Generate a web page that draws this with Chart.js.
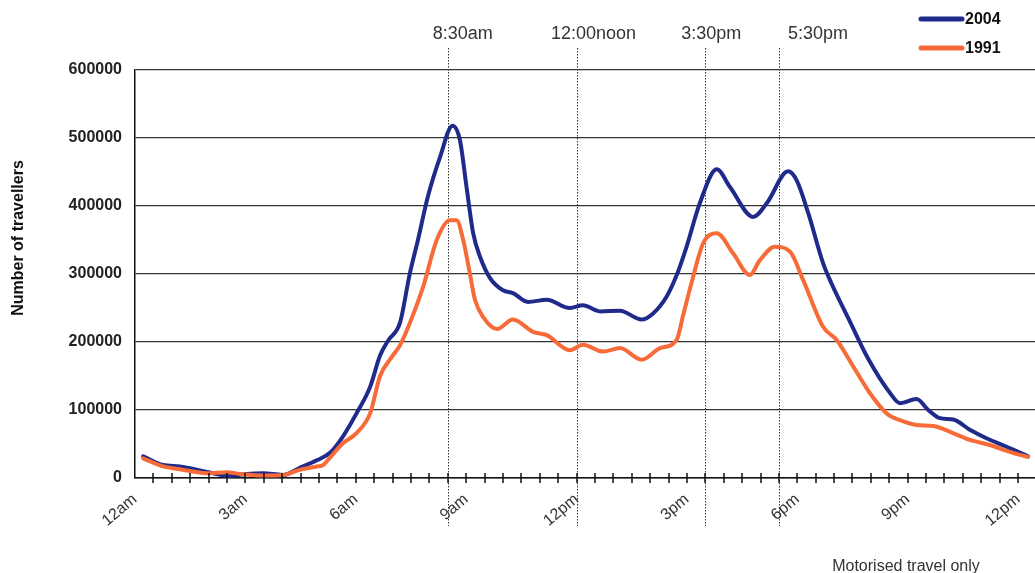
<!DOCTYPE html>
<html>
<head>
<meta charset="utf-8">
<script src="https://cdn.jsdelivr.net/npm/chart.js@4.4.1/dist/chart.umd.min.js"></script>
<style>
  body { margin: 0; background: #fff; }
  #wrap { width: 1035px; height: 573px; }
</style>
</head>
<body>
<div id="wrap"><canvas id="travelChart" width="1035" height="573"></canvas></div>
<script>
// hour of day (0 = midnight) and number of travellers
const hours2004 = [0.22, 0.76, 1.22, 1.95, 2.58, 3.04, 3.48, 4.02, 4.48, 4.94, 5.30, 5.65, 6.02, 6.39, 6.66, 6.89,
  7.20, 7.47, 7.69, 7.96, 8.29, 8.63, 8.83, 9.01, 9.19, 9.38, 9.65, 10.0, 10.27, 10.68, 11.19, 11.82,
  12.17, 12.64, 13.18, 13.77, 14.08, 14.45, 14.72, 14.99, 15.35, 15.81, 16.17, 16.80, 17.17, 17.75,
  17.98, 18.30, 18.70, 18.93, 19.43, 19.93, 20.52, 20.79, 21.24, 21.56, 21.88, 22.24, 22.69, 23.14,
  23.69, 24.27];
const travellers2004 = [32000, 19000, 17000, 9000, 3000, 6000, 7000, 4500, 15000, 26000, 37000, 61000, 95000, 134000, 180000, 203000,
  228000, 301000, 350000, 414000, 472000, 518000, 497000, 428000, 360000, 325000, 294000, 276000, 272000, 259000, 262000, 250000,
  254000, 245000, 246000, 233000, 242000, 267000, 298000, 340000, 404000, 454000, 428000, 384000, 404000, 451000,
  438000, 389000, 316000, 286000, 230000, 175000, 125000, 110000, 116000, 100000, 88000, 86000, 71000, 58500,
  46000, 32000];

const hours1991 = [0.22, 0.76, 1.22, 1.95, 2.49, 2.85, 3.48, 4.02, 4.48, 4.94, 5.11, 5.30, 5.65, 6.02, 6.39, 6.66,
  6.98, 7.20, 7.47, 7.83, 8.20, 8.56, 8.74, 8.92, 9.10, 9.24, 9.46, 9.84, 10.27, 10.82, 11.19, 11.82,
  12.17, 12.72, 13.18, 13.77, 14.27, 14.72, 14.90, 15.14, 15.44, 15.81, 16.26, 16.71, 16.98, 17.39,
  17.80, 18.16, 18.70, 19.07, 19.52, 19.97, 20.43, 20.79, 21.24, 21.70, 22.15, 22.69, 23.23, 23.69,
  24.05, 24.27];
const travellers1991 = [29000, 17000, 13000, 7000, 8500, 6000, 3500, 4500, 12000, 17000, 19000, 30000, 51000, 66000, 95000, 150000,
  178000, 195000, 228000, 281000, 350000, 379000, 379000, 350000, 301000, 262000, 237000, 219000, 233000, 215000, 210000, 188000,
  196000, 186000, 191000, 174000, 191000, 203000, 240000, 290000, 345000, 360000, 330000, 298500, 320000, 340000,
  333000, 291000, 222500, 203000, 164000, 125000, 95000, 85000, 78000, 76500, 68000, 56000, 48500, 40000,
  34000, 31000];

const tickLabels = ['12am', '3am', '6am', '9am', '12pm', '3pm', '6pm', '9pm', '12pm'];
const markerHours = [8.5, 12, 15.5, 17.5];
const markerLabels = ['8:30am', '12:00noon', '3:30pm', '5:30pm'];
const seriesNames = ['2004', '1991'];

const colors = ['#1f2a8a', '#f76b38'];
const FONT = 'Arial, "Liberation Sans", sans-serif';
const markerLabelShift = [15, 17, 6, 39];

function toPoints(xs, ys) {
    return xs.map((h, i) => ({ x: h, y: ys[i] }));
}

// dotted time markers, half-hour ticks across the axis, legend and notes
const extrasPlugin = {
    id: 'extras',
    beforeDatasetsDraw(chart) {
        const ctx = chart.ctx;
        const xs = chart.scales.x;
        ctx.save();
        ctx.strokeStyle = '#333';
        ctx.lineWidth = 1;
        ctx.setLineDash([1.5, 1.5]);
        markerHours.forEach(h => {
            const px = Math.round(xs.getPixelForValue(h)) + 0.5;
            ctx.beginPath();
            ctx.moveTo(px, 48);
            ctx.lineTo(px, 526);
            ctx.stroke();
        });
        ctx.restore();
    },
    afterDraw(chart) {
        const ctx = chart.ctx;
        const xs = chart.scales.x;
        const area = chart.chartArea;
        ctx.save();

        // half hour tick marks
        ctx.strokeStyle = '#111';
        ctx.lineWidth = 1.5;
        for (let h = 0.5; h <= 24.01; h += 0.5) {
            const px = Math.round(xs.getPixelForValue(h));
            ctx.beginPath();
            ctx.moveTo(px, area.bottom - 5);
            ctx.lineTo(px, area.bottom + 5);
            ctx.stroke();
        }

        // marker labels
        ctx.fillStyle = '#333';
        ctx.font = '18px ' + FONT;
        ctx.textAlign = 'center';
        ctx.textBaseline = 'alphabetic';
        markerLabels.forEach((t, i) => {
            ctx.fillText(t, xs.getPixelForValue(markerHours[i]) + markerLabelShift[i], 38.5);
        });

        // legend
        chart.data.datasets.forEach((ds, i) => {
            const y = 19 + i * 29;
            ctx.strokeStyle = ds.borderColor;
            ctx.lineWidth = 5;
            ctx.lineCap = 'round';
            ctx.beginPath();
            ctx.moveTo(921, y);
            ctx.lineTo(962, y);
            ctx.stroke();
            ctx.fillStyle = '#111';
            ctx.font = 'bold 16px ' + FONT;
            ctx.textAlign = 'left';
            ctx.textBaseline = 'middle';
            ctx.fillText(ds.label, 965, y + 1);
        });

        // y axis title
        ctx.save();
        ctx.translate(19, 238);
        ctx.rotate(-Math.PI / 2);
        ctx.fillStyle = '#111';
        ctx.font = 'bold 16px ' + FONT;
        ctx.textAlign = 'center';
        ctx.textBaseline = 'middle';
        ctx.fillText('Number of travellers', 0, 0);
        ctx.restore();

        // footnote
        ctx.fillStyle = '#333';
        ctx.font = '16px ' + FONT;
        ctx.textAlign = 'center';
        ctx.textBaseline = 'middle';
        ctx.fillText('Motorised travel only', 906, 567);
        ctx.restore();
    }
};

const chart = new Chart(document.getElementById('travelChart'), {
    type: 'line',
    data: {
        datasets: [
            {
                label: seriesNames[0],
                data: toPoints(hours2004, travellers2004),
                borderColor: colors[0],
                borderWidth: 4,
                order: 1
            },
            {
                label: seriesNames[1],
                data: toPoints(hours1991, travellers1991),
                borderColor: colors[1],
                borderWidth: 4,
                order: 0
            }
        ]
    },
    options: {
        responsive: false,
        animation: false,
        layout: { padding: { top: 70, right: 0, bottom: 0, left: 0 } },
        elements: {
            point: { radius: 0 },
            line: { cubicInterpolationMode: 'monotone', borderCapStyle: 'round', borderJoinStyle: 'round' }
        },
        plugins: {
            legend: { display: false },
            tooltip: { enabled: false }
        },
        scales: {
            x: {
                type: 'linear',
                min: 0,
                max: 24.46,
                grid: { display: false },
                border: { display: true, color: '#111', width: 1.5 },
                ticks: {
                    stepSize: 3,
                    includeBounds: false,
                    autoSkip: false,
                    minRotation: 40,
                    maxRotation: 40,
                    padding: 4,
                    color: '#333',
                    font: { family: FONT, size: 16 },
                    callback: v => tickLabels[v / 3]
                },
                afterFit(scale) {
                    scale.height = 95;
                    scale.paddingRight = 0;
                    scale.paddingLeft = 0;
                }
            },
            y: {
                min: 0,
                max: 600000,
                grid: { color: '#333', lineWidth: 1.2, drawTicks: false },
                border: { display: true, color: '#111', width: 1.5 },
                ticks: {
                    stepSize: 100000,
                    padding: 13,
                    color: '#222',
                    font: { family: FONT, size: 16, weight: 'bold' },
                    callback: v => String(v)
                },
                afterFit(scale) { scale.width = 135; }
            }
        }
    },
    plugins: [extrasPlugin]
});
</script>
</body>
</html>
